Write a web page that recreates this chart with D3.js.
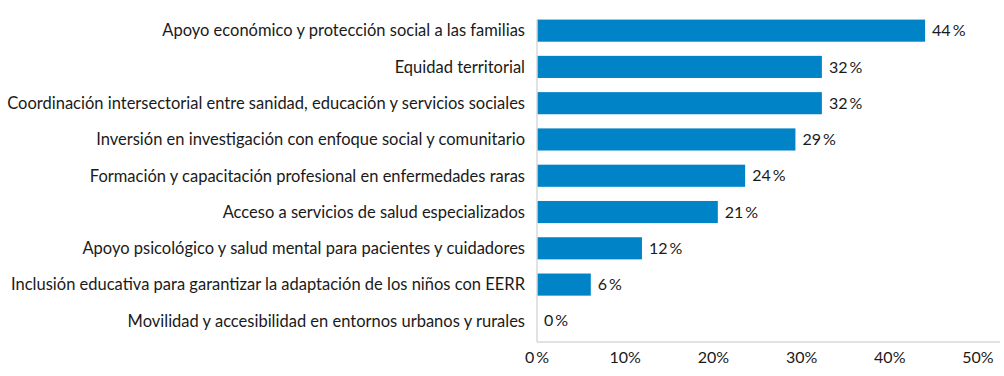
<!DOCTYPE html>
<html>
<head>
<meta charset="utf-8">
<script src="https://cdn.jsdelivr.net/npm/d3@7"></script>
<style>
  body { margin: 0; background: #fff; }
  text { font-family: Lato, "Open Sans", sans-serif; fill: #1a1a1a; }
</style>
</head>
<body>
<div id="chart"></div>
<script>
// categories, top to bottom
var categories = [
    "Apoyo económico y protección social a las familias",
    "Equidad territorial",
    "Coordinación intersectorial entre sanidad, educación y servicios sociales",
    "Inversión en investigación con enfoque social y comunitario",
    "Formación y capacitación profesional en enfermedades raras",
    "Acceso a servicios de salud especializados",
    "Apoyo psicológico y salud mental para pacientes y cuidadores",
    "Inclusión educativa para garantizar la adaptación de los niños con EERR",
    "Movilidad y accesibilidad en entornos urbanos y rurales"
];
// shares in percent
var values = [44, 32.3, 32.3, 29.3, 23.6, 20.5, 11.9, 6.1, 0];
var xTicks = [0, 10, 20, 30, 40, 50];

var width = 1004, height = 376;

var svg = d3.select("#chart")
    .append("svg")
    .attr("width", width)
    .attr("height", height);

var xScale = d3.scaleLinear()
    .domain([0, 50])
    .range([537, 978]);

var yScale = d3.scaleBand()
    .domain(categories)
    .range([12.5, 339])
    .paddingInner(0.39)
    .paddingOuter(0.195);

// bars
svg.selectAll("rect.bar")
    .data(values)
    .enter().append("rect")
    .attr("class", "bar")
    .attr("x", xScale(0))
    .attr("y", (d, i) => yScale(categories[i]))
    .attr("width", d => xScale(d) - xScale(0))
    .attr("height", yScale.bandwidth())
    .attr("fill", "#0084c7");

// axis lines
svg.append("line")
    .attr("x1", xScale(0)).attr("x2", xScale(0))
    .attr("y1", 20).attr("y2", 342)
    .attr("stroke", "#d9d9d9").attr("stroke-width", 1.5);
svg.append("line")
    .attr("x1", xScale(0)).attr("x2", 1000)
    .attr("y1", 342).attr("y2", 342)
    .attr("stroke", "#d9d9d9").attr("stroke-width", 1.5);

// category labels
svg.selectAll("text.cat")
    .data(categories)
    .enter().append("text")
    .attr("class", "cat")
    .attr("x", 525)
    .attr("y", d => yScale(d) + yScale.bandwidth() / 2)
    .attr("dy", "0.35em")
    .attr("text-anchor", "end")
    .style("font-size", "16.5px")
    .text(d => d);

// value labels
svg.selectAll("text.val")
    .data(values)
    .enter().append("text")
    .attr("class", "val")
    .attr("x", d => xScale(d) + 7)
    .attr("y", (d, i) => yScale(categories[i]) + yScale.bandwidth() / 2)
    .attr("dy", "0.35em")
    .style("font-size", "16px")
    .text(d => Math.round(d) + "\u2009%");

// x tick labels
svg.selectAll("text.tick")
    .data(xTicks)
    .enter().append("text")
    .attr("class", "tick")
    .attr("x", d => xScale(d))
    .attr("y", 357)
    .attr("dy", "0.35em")
    .attr("text-anchor", "middle")
    .style("font-size", "16px")
    .text(d => d === 0 ? "0\u2009%" : d + "%");
</script>
</body>
</html>
